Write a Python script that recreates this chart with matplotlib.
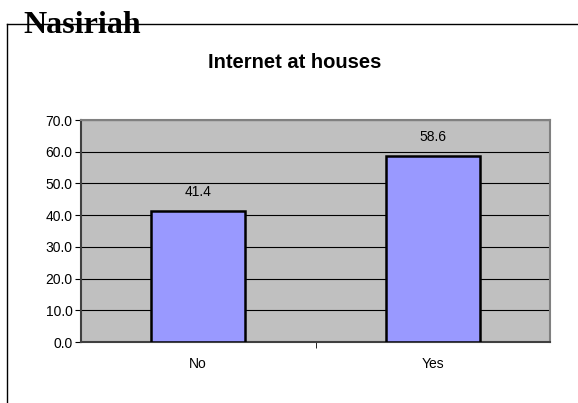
import matplotlib
matplotlib.use("Agg")
import matplotlib.pyplot as plt
from matplotlib.lines import Line2D

categories = ["No", "Yes"]
values = [41.4, 58.6]
yticks = [0, 10, 20, 30, 40, 50, 60, 70]

W, H = 578, 403
fig = plt.figure(figsize=(W / 100, H / 100), dpi=100)
fig.patch.set_facecolor("white")

# outer frame lines
fig.add_artist(Line2D([7 / W, 1.0], [1 - 24 / H, 1 - 24 / H], color="black", lw=1.0, transform=fig.transFigure))
fig.add_artist(Line2D([7 / W, 7 / W], [0, 1 - 24 / H], color="black", lw=1.0, transform=fig.transFigure))

fig.text(23 / W, 1 - 33 / H, "Nasiriah", family="Liberation Serif", weight="bold",
         fontsize=23, va="baseline", ha="left")
fig.text(295 / W, 1 - 62 / H, "Internet at houses", family="Liberation Sans", weight="bold",
         fontsize=14.5, va="center", ha="center")

ax = fig.add_axes([81 / W, 1 - 342 / H, (550 - 81) / W, (342 - 120) / H])
ax.set_facecolor("#C0C0C0")
x = list(range(len(categories)))
bars = ax.bar(x, values, width=0.4, color="#9999FF", edgecolor="black", linewidth=1.8, zorder=3)
ax.set_xlim(-0.5, len(categories) - 0.5)
ax.set_ylim(0, 70)
ax.set_yticks(yticks)
ax.set_yticklabels([f"{v:.1f}" for v in yticks], family="Liberation Sans", fontsize=10)
ax.set_xticks(x)
ax.set_xticklabels(categories, family="Liberation Sans", fontsize=10)
ax.tick_params(axis="x", which="major", length=0, pad=11)
ax.set_xticks([0.5], minor=True)
ax.tick_params(axis="x", which="minor", length=4, direction="out", color="black")
ax.tick_params(axis="y", length=4, direction="out", color="black", pad=2)
ax.yaxis.grid(True, color="black", lw=0.8, zorder=1)
ax.set_axisbelow(True)
for s in ["top", "right"]:
    ax.spines[s].set_color("#808080")
    ax.spines[s].set_linewidth(1.5)
for s in ["left", "bottom"]:
    ax.spines[s].set_color("#404040")
    ax.spines[s].set_linewidth(1.5)

for xi, v in zip(x, values):
    ax.annotate(f"{v:.1f}", (xi, v), xytext=(0, 13.5), textcoords="offset points",
                ha="center", va="center", family="Liberation Sans", fontsize=10)

fig.savefig("out.png", dpi=100)
